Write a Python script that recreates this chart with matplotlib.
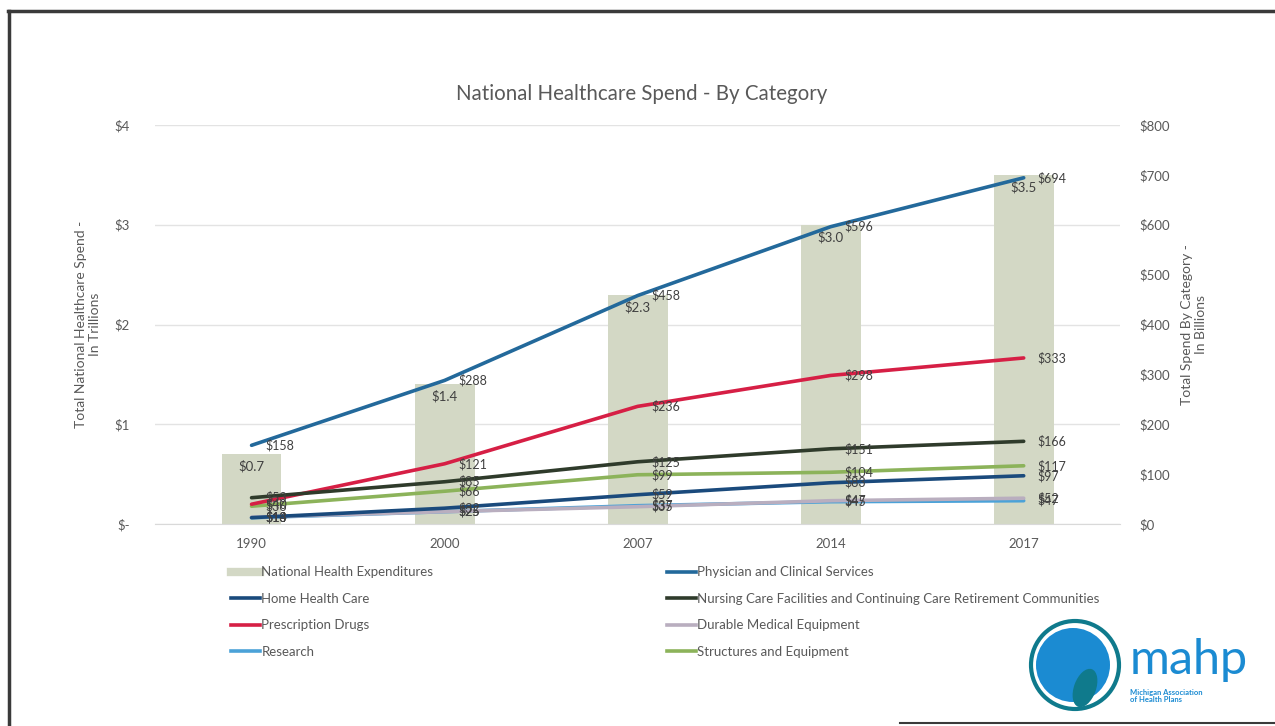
import matplotlib
matplotlib.use("Agg")
import matplotlib.pyplot as plt
from matplotlib.lines import Line2D
from matplotlib.patches import Circle, Ellipse

plt.rcParams['font.family'] = ['Lato', 'DejaVu Sans']

years = ["1990", "2000", "2007", "2014", "2017"]
nhe_trillions = [0.7, 1.4, 2.3, 3.0, 3.5]

physician = [158, 288, 458, 596, 694]
home_health = [13, 32, 59, 83, 97]
prescription = [40, 121, 236, 298, 333]
research = [13, 25, 37, 45, 47]
nursing = [53, 85, 125, 151, 166]
dme = [14, 25, 35, 47, 52]
structures = [36, 66, 99, 104, 117]

left_ticks = ["$-", "$1", "$2", "$3", "$4"]
right_ticks = ["$0", "$100", "$200", "$300", "$400", "$500", "$600", "$700", "$800"]

series = [
    ("Physician and Clinical Services", physician, "#23699b"),
    ("Nursing Care Facilities and Continuing Care Retirement Communities", nursing, "#2f3b2b"),
    ("Prescription Drugs", prescription, "#d61f45"),
    ("Structures and Equipment", structures, "#8cb35a"),
    ("Home Health Care", home_health, "#1a4a7c"),
    ("Durable Medical Equipment", dme, "#b9aebf"),
    ("Research", research, "#4ba2d8"),
]

TXT = "#595959"
BAR = "#d3d8c5"

fig = plt.figure(figsize=(12.75, 7.26), dpi=100)
ax = fig.add_axes([0.1216, 0.278, 0.757, 0.55])
ax2 = ax.twinx()

x = list(range(len(years)))
ax.bar(x, nhe_trillions, width=0.31, color=BAR, zorder=2)
for xi, v in zip(x, nhe_trillions):
    ax.text(xi, v - 0.06, f"${v:.1f}", ha="center", va="top", fontsize=9.5,
            color="#404040", zorder=5)

ax.set_ylim(0, 4)
ax.set_yticks(range(5))
ax.set_yticklabels(left_ticks)
ax.set_xlim(-0.5, 4.5)
ax.set_xticks(x)
ax.set_xticklabels(years)
ax.grid(axis="y", color="#e3e3e3", linewidth=1, zorder=0)
ax.set_axisbelow(True)

ax2.set_ylim(0, 800)
ax2.set_yticks(range(0, 801, 100))
ax2.set_yticklabels(right_ticks)

for name, vals, col in series[::-1]:
    ax2.plot(x, vals, color=col, linewidth=2.6, solid_capstyle="round", zorder=3)
    for xi, v in zip(x, vals):
        ax2.text(xi + 0.07, v, f"${v}", ha="left", va="center", fontsize=9,
                 color="#404040", zorder=6)

for a in (ax, ax2):
    for s in a.spines.values():
        s.set_visible(False)
    a.tick_params(length=0, colors=TXT, labelsize=9.5)
ax.spines["bottom"].set_visible(True)
ax.spines["bottom"].set_color("#d9d9d9")
ax.tick_params(axis="x", pad=10)
ax.tick_params(axis="y", pad=18)
ax2.tick_params(axis="y", pad=14)

ax.set_ylabel("Total National Healthcare Spend -\nIn Trillions", color=TXT,
              fontsize=10, labelpad=10)
ax2.set_ylabel("Total Spend By Category -\nIn Billions", color=TXT,
               fontsize=10, rotation=90, labelpad=8)
ax2.yaxis.set_label_position("right")

fig.text(0.503, 0.870, "National Healthcare Spend - By Category", ha="center",
         va="center", fontsize=14.8, color=TXT)

# Legend, two columns
style = {name: col for name, _, col in series}
def handle(col, lw=2.6):
    return Line2D([], [], color=col, linewidth=lw)

left_items = [("National Health Expenditures", handle(BAR, 6)),
              ("Home Health Care", handle(style["Home Health Care"])),
              ("Prescription Drugs", handle(style["Prescription Drugs"])),
              ("Research", handle(style["Research"]))]
right_items = [("Physician and Clinical Services", handle(style["Physician and Clinical Services"])),
               ("Nursing Care Facilities and Continuing Care Retirement Communities",
                handle(style["Nursing Care Facilities and Continuing Care Retirement Communities"])),
               ("Durable Medical Equipment", handle(style["Durable Medical Equipment"])),
               ("Structures and Equipment", handle(style["Structures and Equipment"]))]

for items, xa in ((left_items, 0.176), (right_items, 0.518)):
    fig.legend([h for _, h in items], [n for n, _ in items],
               loc="upper left", bbox_to_anchor=(xa, 0.229), frameon=False,
               fontsize=9.5, handlelength=2.2, handletextpad=0.1,
               labelspacing=1.1, labelcolor=TXT, borderpad=0)

# Frame lines
fig.add_artist(Line2D([8/1275, 1], [1 - 11/726, 1 - 11/726], color="#3a3a3a", lw=2.5,
                      transform=fig.transFigure))
fig.add_artist(Line2D([9/1275, 9/1275], [1 - 11/726, 0], color="#3a3a3a", lw=2.5,
                      transform=fig.transFigure))
fig.add_artist(Line2D([900/1275, 1], [3/726, 3/726], color="#3a3a3a", lw=1.5,
                      transform=fig.transFigure))

# mahp mark
lax = fig.add_axes([1020/1275, 0, 255/1275, 116/726])
lax.set_xlim(0, 255)
lax.set_ylim(116, 0)
lax.set_axis_off()
lax.add_patch(Circle((55, 55), 44, facecolor="white", edgecolor="#0f7a8c", lw=3))
lax.add_patch(Circle((53, 55), 37, facecolor="#1b8bd2", edgecolor="none"))
lax.add_patch(Ellipse((65, 78), 22, 40, angle=20, facecolor="#0f7a8c", edgecolor="none"))
lax.text(110, 50, "mahp", fontsize=35, color="#1b8bd2", ha="left", va="center")
lax.text(110, 86, "Michigan Association\nof Health Plans", fontsize=5.5,
         color="#1b8bd2", ha="left", va="center", fontweight="bold", linespacing=1.1)

fig.savefig("out.png", dpi=100, facecolor="white")
